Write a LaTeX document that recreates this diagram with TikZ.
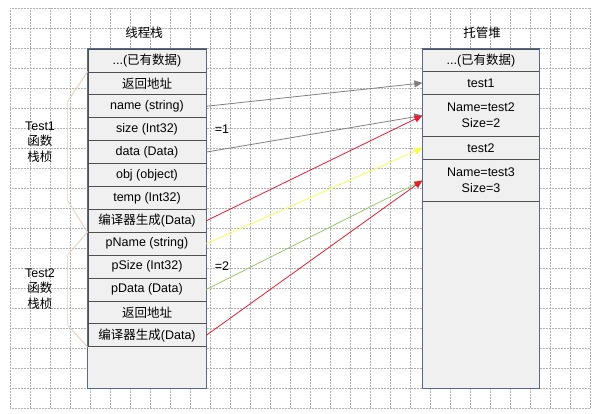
\documentclass[tikz,border=0pt]{standalone}
\usepackage{fontspec}
\setmainfont{Liberation Sans}
\newfontfamily\cjk{Noto Sans CJK SC}
\usetikzlibrary{arrows.meta,positioning,calc}
\definecolor{cellFill}{RGB}{240,240,240}
\definecolor{cellLine}{RGB}{80,80,80}
\definecolor{frameBlue}{RGB}{85,105,145}
\definecolor{braceTan}{RGB}{232,205,180}
\definecolor{refGray}{RGB}{128,128,128}
\definecolor{refRed}{RGB}{225,30,50}
\definecolor{refYellow}{RGB}{250,250,80}
\definecolor{refGreen}{RGB}{150,200,110}
\tikzset{
  gridln/.style={gray!60, line width=0.5pt, densely dotted},
  cell/.style={draw=cellLine, fill=cellFill, line width=0.7pt, inner sep=0pt,
    minimum width=118pt, minimum height=22.9pt, align=center,
    font=\fontsize{12.5}{14}\selectfont},
  hcell/.style={cell, minimum width=116.6pt},
  frameln/.style={draw=frameBlue, line width=0.8pt},
  braceln/.style={braceTan, line width=0.8pt},
  lbl/.style={font=\fontsize{12.5}{15.5}\selectfont, align=center},
  refln/.style={-{Triangle[length=8pt,width=7pt]}, line width=0.8pt},
}
\begin{document}
\begin{tikzpicture}[x=1pt,y=-1pt]
  \useasboundingbox (0,0) rectangle (596,413);
  % background grid
  \foreach \gx in {10,30,...,590} \draw[gridln] (\gx,8) -- (\gx,408);
  \foreach \gy in {8,28,...,408} \draw[gridln] (10,\gy) -- (590,\gy);
  % titles
  \node[lbl] (ttlstk) at (144,33) {\cjk 线程栈};
  \node[lbl] (ttlheap) at (482,33) {\cjk 托管堆};
  % thread stack
  \coordinate (stkbot) at (206,388);
  \fill[cellFill] (88,49) rectangle (stkbot);
  \node[cell] (old)   at (147,60.45)  {...({\cjk 已有数据})};
  \node[cell] (ret1)  at (147,83.35)  {\cjk 返回地址};
  \node[cell] (name)  at (147,106.25) {name (string)};
  \node[cell] (size)  at (147,129.15) {size (Int32)};
  \node[cell] (data)  at (147,152.05) {data (Data)};
  \node[cell] (obj)   at (147,174.95) {obj (object)};
  \node[cell] (temp)  at (147,197.85) {temp (Int32)};
  \node[cell] (gen1)  at (147,220.75) {{\cjk 编译器生成}(Data)};
  \node[cell] (pname) at (147,243.65) {pName (string)};
  \node[cell] (psize) at (147,266.55) {pSize (Int32)};
  \node[cell] (pdata) at (147,289.45) {pData (Data)};
  \node[cell] (ret2)  at (147,312.35) {\cjk 返回地址};
  \node[cell] (gen2)  at (147,335.25) {{\cjk 编译器生成}(Data)};
  \draw[frameln] (old.north west) rectangle (stkbot);
  \node[lbl] (eq1) [right=5pt of size] {=1};
  \node[lbl] (eq2) [right=5pt of psize] {=2};
  % managed heap
  \coordinate (heapbot) at (539.3,388);
  \fill[cellFill] (422.7,49) rectangle (heapbot);
  \node[hcell] (hold)   at (481,60.5)  {...({\cjk 已有数据})};
  \node[hcell] (htest1) at (481,83)    {test1};
  \node[hcell, minimum height=42.4pt] (hobj2) at (481,115.5) {Name=test2\\[2pt]Size=2};
  \node[hcell] (htest2) at (481,148)   {test2};
  \node[hcell, minimum height=42.4pt] (hobj3) at (481,180.5) {Name=test3\\[2pt]Size=3};
  \draw[frameln] (hold.north west) rectangle (heapbot);
  % frame braces
  \draw[braceln] (ret1.north west) -- ++(-20,30) -- ($(gen1.south west)+(-20,-32)$) -- (gen1.south west);
  \draw[braceln] (pname.north west) -- ++(-20,23) -- ($(gen2.south west)+(-20,-22)$) -- (gen2.south west);
  \node[lbl] (frm1) at (40,142) {Test1\\{\cjk 函数}\\{\cjk 栈桢}};
  \node[lbl] (frm2) at (40,289) {Test2\\{\cjk 函数}\\{\cjk 栈桢}};
  % references
  \draw[refln, refGray] (name.east) -- (htest1.west);
  \draw[refln, refGray] (data.east) -- (hobj2.west);
  \draw[refln, refRed] (gen1.east) -- (hobj2.west);
  \draw[refln, refYellow] (pname.east) -- (htest2.west);
  \draw[refln, refGreen] (pdata.east) -- (hobj3.west);
  \draw[refln, refRed] (gen2.east) -- (hobj3.west);
\end{tikzpicture}
\end{document}
